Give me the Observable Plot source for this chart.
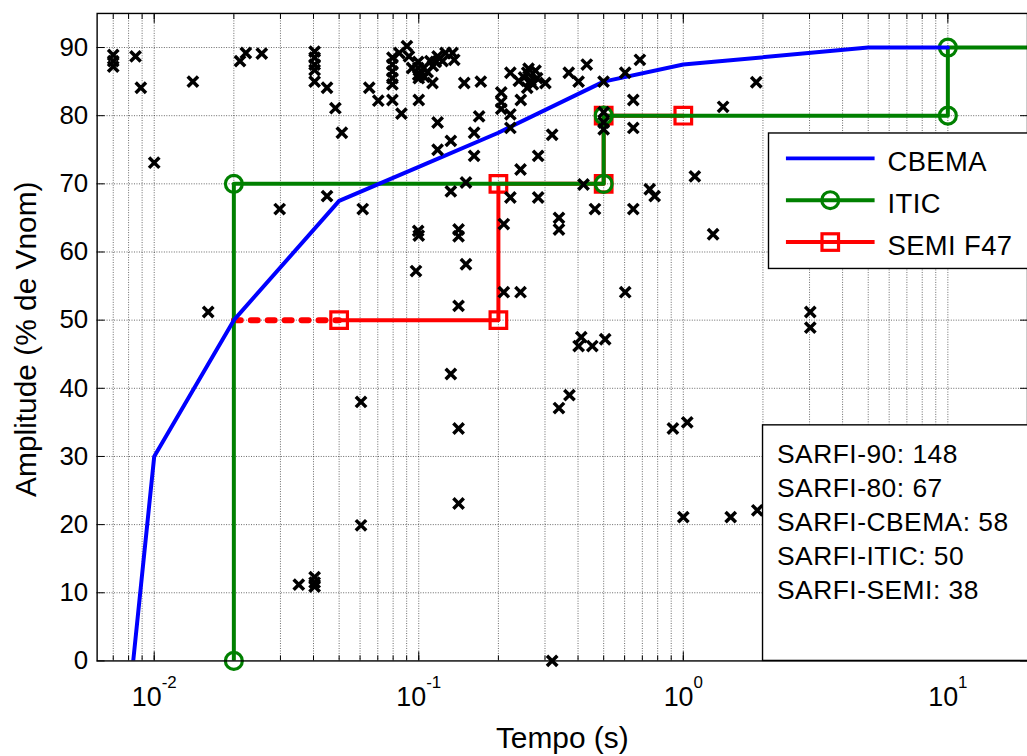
<!DOCTYPE html>
<html><head><meta charset="utf-8">
<script src="https://cdn.jsdelivr.net/npm/d3@7"></script>
<script src="https://cdn.jsdelivr.net/npm/@observablehq/plot@0.6"></script>
<style>
html,body{margin:0;padding:0;background:#fff;overflow:hidden;}
#chart{width:1027px;height:756px;overflow:hidden;position:relative;}
</style></head><body><div id="chart"></div>
<script>
// ---- data ----
const cbemaT = [0.00833, 0.01, 0.02, 0.05, 0.1, 0.2, 0.5, 1, 5, 10];
const cbemaV = [0, 30, 50, 67.5, 72.5, 77.5, 85, 87.5, 90, 90];
const iticT = [0.02, 0.02, 0.5, 0.5, 10, 10, 100];
const iticV = [0, 70, 70, 80, 80, 90, 90];
const semiT = [0.05, 0.2, 0.2, 0.5, 0.5, 1];
const semiV = [50, 50, 70, 70, 80, 80];
const semiDotT = [0.02, 0.05];
const semiDotV = [50, 50];
const eventT = [0.0070,0.0070,0.0070,0.0085,0.0089,0.0100,0.0140,0.0160,0.0211,0.0222,0.0255,0.0298,0.0352,
  0.0404,0.0404,0.0404,0.0404,0.0404,0.0404,0.0404,0.0404,0.0450,0.0450,0.0484,0.0512,0.0614,0.0605,0.0605,
  0.0650,0.0703,0.0795,0.0795,0.0795,0.0795,0.0795,0.0795,0.0860,0.0844,0.0902,0.0918,0.0943,0.0995,0.0995,
  0.0995,0.1000,0.1010,0.1045,0.1080,0.1106,0.1050,0.1130,0.1160,0.1178,0.1262,0.1342,0.1362,0.1127,0.1486,
  0.1000,0.0995,0.1000,0.0976,0.1178,0.1178,0.1322,0.1619,0.1691,0.1619,0.1508,0.1322,0.1414,0.1414,0.1508,
  0.1414,0.1322,0.1414,0.1414,0.1716,0.2220,0.2389,0.2570,0.2763,0.2802,0.2570,0.2645,0.3010,0.3690,0.2050,
  0.2050,0.2050,0.2430,0.2220,0.2220,0.3193,0.4020,0.4316,0.4993,0.6031,0.6853,0.6470,0.6470,0.5000,0.5000,
  0.5000,0.2827,0.2425,0.2220,0.2827,0.4195,0.4635,0.6470,0.7464,0.7792,1.1055,1.2960,0.3388,0.3388,0.2096,
  0.2096,0.2425,0.6031,0.4114,0.4020,0.4530,0.5066,0.3712,0.3388,0.9134,1.0350,0.3193,1.0000,1.5105,1.9040,
  3.0200,3.0200,1.8870,1.4140,0.2500,0.2700,0.2600,0.1230];
const eventV = [88.9,88.0,87.2,88.7,84.1,73.1,85.0,51.2,88.0,89.2,89.1,66.3,11.2,
  89.4,88.5,87.5,86.7,85.0,12.3,11.5,10.9,84.1,68.2,81.1,77.5,66.3,38.0,19.9,
  84.1,82.2,88.5,87.5,86.5,85.5,84.6,82.3,80.3,89.2,90.2,88.7,87.0,87.9,87.0,
  86.0,85.5,86.0,87.0,86.4,88.0,85.7,87.3,87.9,88.7,89.2,89.2,88.2,84.8,84.8,
  82.3,63.1,62.4,57.2,79.0,75.0,76.3,77.5,79.9,74.1,70.2,68.9,63.3,62.3,58.2,
  52.1,42.1,34.1,23.1,85.0,86.3,85.1,86.3,86.6,85.5,84.1,85.1,84.8,86.3,83.4,
  82.0,81.0,82.3,80.2,78.2,77.2,85.0,87.5,85.0,86.3,88.2,82.3,78.2,80.5,79.0,
  78.0,74.1,72.1,68.0,68.0,69.9,66.3,66.3,69.2,68.2,71.1,62.6,65.0,63.3,64.1,
  54.1,54.1,54.1,47.5,46.2,46.2,47.2,39.0,37.1,34.1,35.0,0,21.1,21.1,22.1,
  51.2,48.9,84.9,81.3,85.6,84.6,86.9,88.0];
const xTickValues = [0.01, 0.1, 1, 10];
const xTickLabels = ["10^-2", "10^-1", "10^0", "10^1"];
const yTickValues = [0, 10, 20, 30, 40, 50, 60, 70, 80, 90];
const legendLabels = ["CBEMA", "ITIC", "SEMI F47"];
const sarfiLabels = ["SARFI-90: 148", "SARFI-80: 67", "SARFI-CBEMA: 58", "SARFI-ITIC: 50", "SARFI-SEMI: 38"];
const xTitle = "Tempo (s)";
const yTitle = "Amplitude (% de Vnom)";

// ---- build ----
const zip = (a, b) => a.map((t, i) => ({t, v: b[i]}));
const cbema = zip(cbemaT, cbemaV), itic = zip(iticT, iticV), semi = zip(semiT, semiV),
      semiDot = zip(semiDotT, semiDotV), events = zip(eventT, eventV);
const xDomain = [0.006084, 20];
const minorT = [];
for (let e = -3; e <= 1; e++) for (let k = 1; k <= 9; k++) {
  const v = k * 10 ** e; if (v >= xDomain[0] && v <= xDomain[1]) minorT.push(+v.toPrecision(3));
}
const BLUE = "#0000ff", GREEN = "#008000", RED = "#ff0000";
const FONT = "'Liberation Sans', Arial, sans-serif";
const gridStyle = {stroke: "#000", strokeOpacity: 0.6, strokeDasharray: "1,1.5", strokeWidth: 1};

const plot = Plot.plot({
  width: 1031, height: 756,
  marginLeft: 97, marginRight: 0, marginTop: 13, marginBottom: 93,
  style: {fontFamily: FONT, color: "#000", background: "#fff", overflow: "visible"},
  x: {type: "log", domain: xDomain},
  y: {domain: [0, 95]},
  marks: [
    Plot.ruleX(minorT, gridStyle),
    Plot.ruleY(yTickValues.filter(d => d > 0), gridStyle),
    Plot.axisX(xTickValues, {anchor: "bottom", tickSize: 0, tickPadding: 26, fontSize: 27, label: null,
      tickFormat: d => xTickLabels[xTickValues.indexOf(d)]}),
    Plot.axisX(minorT, {anchor: "bottom", tickSize: -5, text: null, label: null}),
    Plot.axisX(xTickValues, {anchor: "bottom", tickSize: -9, text: null, label: null}),
    Plot.axisX(minorT, {anchor: "top", tickSize: -5, text: null, label: null}),
    Plot.axisX(xTickValues, {anchor: "top", tickSize: -9, text: null, label: null}),
    Plot.axisY(yTickValues, {anchor: "left", tickSize: 0, tickPadding: 9, fontSize: 26, label: null, tickFormat: d => String(d)}),
    Plot.axisY(yTickValues, {anchor: "left", tickSize: -8, text: null, label: null}),
    Plot.axisY(yTickValues, {anchor: "right", tickSize: -8, text: null, label: null}),
    Plot.line(semiDot, {x: "t", y: "v", stroke: RED, strokeWidth: 6, strokeDasharray: "7,10", clip: true}),
    Plot.line(semi, {x: "t", y: "v", stroke: RED, strokeWidth: 4, clip: true}),
    Plot.dot(semi, {x: "t", y: "v", symbol: "square", r: 9.4, stroke: RED, strokeWidth: 3.2, fill: "none"}),
    Plot.line(itic, {x: "t", y: "v", stroke: GREEN, strokeWidth: 4, clip: true}),
    Plot.dot(itic, {x: "t", y: "v", symbol: "circle", r: 8.5, stroke: GREEN, strokeWidth: 3.2, fill: "none"}),
    Plot.line(cbema, {x: "t", y: "v", stroke: BLUE, strokeWidth: 4, clip: true}),
    Plot.dot(events, {x: "t", y: "v", symbol: "times", r: 4.8, stroke: "#000", strokeWidth: 3.5}),
    Plot.frame({stroke: "#000", strokeWidth: 1.4}),
    Plot.text([xTitle], {frameAnchor: "bottom", lineAnchor: "bottom", dy: 87, fontSize: 30, textAnchor: "middle", ariaLabel: "x-title"}),
    Plot.text([yTitle], {frameAnchor: "left", rotate: -90, dx: -71, dy: 2, fontSize: 30, textAnchor: "middle", ariaLabel: "y-title"})
  ]
});

// superscripts on x tick labels
d3.select(plot).selectAll('g[aria-label="x-axis tick label"] text').each(function () {
  const s = this.textContent; const parts = s.split("^");
  const t = d3.select(this); t.text(parts[0]);
  t.append("tspan").attr("dy", "-18").attr("font-size", 17).text(parts[1]);
});
d3.select(plot).selectAll('g[aria-label="y-title"] text').attr("letter-spacing", "2.6px");
d3.select(plot).selectAll('g[aria-label="x-title"] text').attr("letter-spacing", "0.8px");

// legend box (inside the plot area)
const svg = d3.select(plot);
const lg = svg.append("g").attr("font-family", FONT).attr("text-anchor", "start");
lg.append("rect").attr("x", 771.5).attr("y", 133.5).attr("width", 300).attr("height", 136)
  .attr("fill", "#fff").attr("stroke", "#000").attr("stroke-width", 1.4);
const legendColors = [BLUE, GREEN, RED];
const rowY = [159, 201, 243];
legendLabels.forEach((lab, i) => {
  const y = rowY[i];
  lg.append("line").attr("x1", 789).attr("x2", 878).attr("y1", y).attr("y2", y)
    .attr("stroke", legendColors[i]).attr("stroke-width", 4);
  if (i === 1) lg.append("circle").attr("cx", 833.5).attr("cy", y).attr("r", 8.5)
    .attr("fill", "none").attr("stroke", GREEN).attr("stroke-width", 3.2);
  if (i === 2) lg.append("rect").attr("x", 833.5 - 8.3).attr("y", y - 8.3).attr("width", 16.6).attr("height", 16.6)
    .attr("fill", "none").attr("stroke", RED).attr("stroke-width", 3.2);
  lg.append("text").attr("x", 891).attr("y", y + 13).attr("font-size", 27.5).attr("letter-spacing", "0.4px").text(lab);
});

// SARFI box
const sb = svg.append("g").attr("font-family", FONT).attr("text-anchor", "start");
sb.append("rect").attr("x", 765.5).attr("y", 426.5).attr("width", 300).attr("height", 236.5)
  .attr("fill", "#fff").attr("stroke", "#000").attr("stroke-width", 1.4);
sarfiLabels.forEach((lab, i) => {
  sb.append("text").attr("x", 780).attr("y", 464.5 + i * 34.2).attr("font-size", 26.5).attr("letter-spacing", "0.5px").text(lab);
});

document.getElementById("chart").appendChild(plot);
</script></body></html>
